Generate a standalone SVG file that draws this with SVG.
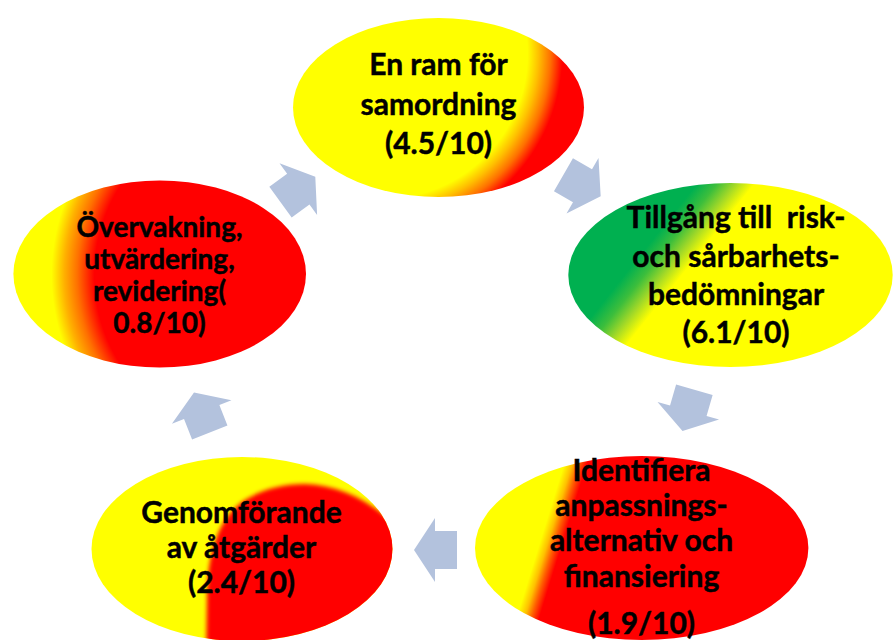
<svg xmlns="http://www.w3.org/2000/svg" width="893" height="640" viewBox="0 0 893 640">
  <style>
    .lbl { font-family: Lato, "Liberation Sans", sans-serif; font-weight: 700; font-size: 30px; fill: #000; stroke: #000; stroke-width: 0.45px; text-anchor: middle; }
    .sm { font-size: 28px; }
    .arrow { fill: #b3c2dd; }
  </style>
  <defs>
    <path id="blockArrow" d="M -22,-19 H 0 V -32 L 21,0 L 0,32 V 19 H -22 Z"/>
    <radialGradient id="gTop" gradientUnits="userSpaceOnUse" cx="382.5" cy="54" r="200">
      <stop offset="0" stop-color="#ffff00"/>
      <stop offset="0.725" stop-color="#ffff00"/>
      <stop offset="0.78" stop-color="#ffc000"/>
      <stop offset="0.84" stop-color="#ff7000"/>
      <stop offset="0.9" stop-color="#ff0000"/>
      <stop offset="1" stop-color="#ff0000"/>
    </radialGradient>
    <linearGradient id="gRight" gradientUnits="userSpaceOnUse" x1="618.3" y1="186.3" x2="712.3" y2="261">
      <stop offset="0" stop-color="#00b050"/>
      <stop offset="0.5" stop-color="#00b050"/>
      <stop offset="0.63" stop-color="#3cbe3c"/>
      <stop offset="0.75" stop-color="#a0d828"/>
      <stop offset="0.875" stop-color="#ffff00"/>
      <stop offset="1" stop-color="#ffff00"/>
    </linearGradient>
    <linearGradient id="gBR" gradientUnits="userSpaceOnUse" x1="547" y1="519" x2="568" y2="525.5">
      <stop offset="0" stop-color="#ffff00"/>
      <stop offset="0.35" stop-color="#ffc000"/>
      <stop offset="0.65" stop-color="#ff6000"/>
      <stop offset="1" stop-color="#ff0000"/>
    </linearGradient>
    <radialGradient id="gLeft" gradientUnits="userSpaceOnUse" cx="260" cy="275" r="215">
      <stop offset="0" stop-color="#ff0000"/>
      <stop offset="0.77" stop-color="#ff0000"/>
      <stop offset="0.85" stop-color="#ff7000"/>
      <stop offset="0.91" stop-color="#ffb000"/>
      <stop offset="0.97" stop-color="#ffff00"/>
      <stop offset="1" stop-color="#ffff00"/>
    </radialGradient>
    <clipPath id="clipBL">
      <ellipse cx="242" cy="549" rx="150.5" ry="92"/>
    </clipPath>
    <filter id="soft" x="-20%" y="-20%" width="140%" height="140%">
      <feGaussianBlur stdDeviation="2"/>
    </filter>
  </defs>

  <g id="connectors">
    <use href="#blockArrow" class="arrow" transform="translate(298.3,189.2) rotate(-36)"/>
    <use href="#blockArrow" class="arrow" transform="translate(582.5,185.8) rotate(30)"/>
    <use href="#blockArrow" class="arrow" transform="translate(688.3,410.8) rotate(106)"/>
    <use href="#blockArrow" class="arrow" transform="translate(435,550) rotate(180)"/>
    <use href="#blockArrow" class="arrow" transform="translate(201.7,412) rotate(-111.5)"/>
  </g>

  <g id="node-ram">
    <ellipse cx="438.5" cy="107.5" rx="145.5" ry="89.5" fill="url(#gTop)"/>
    <text class="lbl" x="438.5" y="75">En ram för</text>
    <text class="lbl" x="438.5" y="115">samordning</text>
    <text class="lbl" x="438.5" y="154">(4.5/10)</text>
  </g>

  <g id="node-tillgang">
    <ellipse cx="730.5" cy="275" rx="162.2" ry="92" fill="url(#gRight)"/>
    <text class="lbl" x="736" y="228" xml:space="preserve">Tillgång till  risk-</text>
    <text class="lbl" x="736" y="266.5">och sårbarhets-</text>
    <text class="lbl" x="736" y="305">bedömningar</text>
    <text class="lbl" x="736" y="343">(6.1/10)</text>
  </g>

  <g id="node-identifiera">
    <ellipse cx="641.7" cy="548" rx="166.7" ry="92" fill="url(#gBR)"/>
    <text class="lbl" x="641.5" y="481">Identifiera</text>
    <text class="lbl" x="641.5" y="515.5">anpassnings-</text>
    <text class="lbl" x="641.5" y="551">alternativ och</text>
    <text class="lbl" x="641.5" y="586.5">finansiering</text>
    <text class="lbl" x="641.5" y="634">(1.9/10)</text>
  </g>

  <g id="node-genomforande">
    <ellipse cx="242" cy="549" rx="150.5" ry="92" fill="#ffff00"/>
    <g clip-path="url(#clipBL)">
      <path d="M 206,660 L 207,600 C 207,560 215,520 245,500 C 265,488 285,484 305,484 C 335,485 365,497 392,522 L 430,545 L 430,660 Z" fill="#ff0000" filter="url(#soft)"/>
    </g>
    <text class="lbl" x="241.5" y="523">Genomförande</text>
    <text class="lbl" x="241.5" y="558">av åtgärder</text>
    <text class="lbl" x="241.5" y="593">(2.4/10)</text>
  </g>

  <g id="node-overvakning">
    <ellipse cx="159.7" cy="274" rx="146.3" ry="93.5" fill="url(#gLeft)"/>
    <text class="lbl sm" x="159.5" y="237">Övervakning,</text>
    <text class="lbl sm" x="159.5" y="269">utvärdering,</text>
    <text class="lbl sm" x="159.5" y="301">revidering(</text>
    <text class="lbl sm" x="159.5" y="333">0.8/10)</text>
  </g>
</svg>
